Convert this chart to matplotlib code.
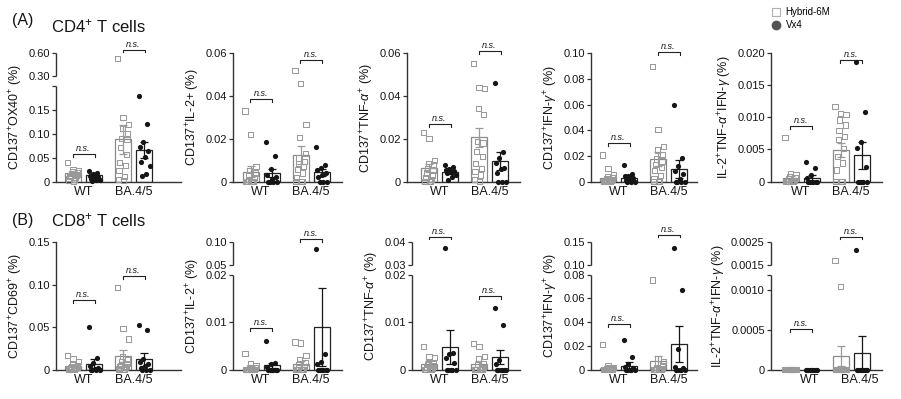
import numpy as np
import matplotlib
matplotlib.use('Agg')
import matplotlib.pyplot as plt
from matplotlib.lines import Line2D
from matplotlib.ticker import NullLocator
import matplotlib.transforms as mtransforms

plt.rcParams['font.family'] = ['Liberation Sans', 'DejaVu Sans']
plt.rcParams['mathtext.fontset'] = 'custom'
plt.rcParams['mathtext.rm'] = 'Liberation Sans'
plt.rcParams['mathtext.it'] = 'Liberation Sans:italic'
plt.rcParams['mathtext.bf'] = 'Liberation Sans:bold'

groups = ['WT', 'BA.4/5']
series = ['Hybrid-6M', 'Vx4']

# points per panel: [WT Hybrid, WT Vx4, BA Hybrid, BA Vx4]
cd4_ox40 = [[0.040, 0.025, 0.022, 0.020, 0.018, 0.016, 0.015, 0.013, 0.012, 0.010, 0.008, 0.006, 0.004, 0.002, 0.001],
            [0.023, 0.018, 0.015, 0.012, 0.010, 0.008, 0.006, 0.004, 0.003, 0.001],
            [0.53, 0.134, 0.120, 0.111, 0.100, 0.090, 0.088, 0.072, 0.057, 0.040, 0.033, 0.023, 0.010, 0.004, 0.002],
            [0.180, 0.121, 0.083, 0.072, 0.064, 0.051, 0.041, 0.033, 0.015, 0.012]]
cd4_ox40_mean = [0.017, 0.013, 0.088, 0.066]
cd4_ox40_sem = [0.004, 0.003, 0.031, 0.017]

cd4_il2 = [[0.033, 0.022, 0.007, 0.005, 0.004, 0.003, 0.002, 0.001] + [0] * 7,
           [0.0187, 0.012, 0.006, 0.003, 0.002, 0.001] + [0] * 4,
           [0.052, 0.046, 0.0265, 0.0207, 0.0132, 0.011, 0.0095, 0.0086, 0.007, 0.0055, 0.004, 0.002, 0, 0, 0],
           [0.0162, 0.0075, 0.0062, 0.0055, 0.004, 0.003, 0.002, 0, 0, 0]]
cd4_il2_mean = [0.0046, 0.0040, 0.0125, 0.0044]
cd4_il2_sem = [0.0025, 0.0020, 0.0042, 0.0016]

cd4_tnf = [[0.023, 0.020, 0.010, 0.0086, 0.0078, 0.0062, 0.005, 0.004, 0.003, 0.002, 0.001, 0, 0, 0, 0],
           [0.0075, 0.007, 0.006, 0.0055, 0.005, 0.0045, 0.004, 0.003, 0.002, 0.0005],
           [0.0553, 0.0441, 0.0436, 0.0343, 0.0312, 0.0187, 0.018, 0.014, 0.0117, 0.0086, 0.0062, 0.0047, 0.003, 0.001, 0],
           [0.0463, 0.014, 0.0109, 0.0086, 0.0062, 0.006, 0.004, 0, 0, 0]]
cd4_tnf_mean = [0.0062, 0.0044, 0.0206, 0.0098]
cd4_tnf_sem = [0.0018, 0.0008, 0.0044, 0.0042]

cd4_ifng = [[0.0206, 0.0102, 0.005, 0.004, 0.003, 0.002, 0.0015, 0.001, 0.0005] + [0] * 6,
            [0.013, 0.006, 0.0044, 0.004, 0.003, 0.002, 0.001, 0, 0, 0],
            [0.0898, 0.0404, 0.027, 0.0245, 0.021, 0.0175, 0.016, 0.013, 0.011, 0.0083, 0.0044, 0.002, 0, 0, 0],
            [0.0596, 0.0182, 0.0122, 0.0083, 0.0057, 0.002, 0, 0, 0, 0]]
cd4_ifng_mean = [0.0025, 0.0030, 0.0174, 0.0096]
cd4_ifng_sem = [0.0013, 0.0010, 0.0053, 0.0070]

cd4_poly = [[0.0069, 0.0012, 0.001, 0.0008, 0.0006, 0.0004, 0.0002] + [0] * 8,
            [0.0031, 0.0021, 0.001, 0.0005] + [0] * 6,
            [0.0117, 0.0106, 0.0105, 0.0096, 0.0088, 0.008, 0.007, 0.0065, 0.0052, 0.0039, 0.0029, 0.0018, 0, 0, 0],
            [0.0186, 0.0109, 0.0062, 0.0052, 0.0023] + [0] * 5]
cd4_poly_mean = [0.0005, 0.0005, 0.0049, 0.0041]
cd4_poly_sem = [0.0004, 0.0005, 0.0011, 0.0021]

cd8_cd69 = [[0.0168, 0.0125, 0.0097, 0.006, 0.005, 0.004, 0.003, 0.002, 0.002, 0.001, 0.001, 0.0005, 0, 0, 0],
            [0.050, 0.014, 0.008, 0.004, 0.002, 0.001, 0, 0, 0, 0],
            [0.097, 0.048, 0.036, 0.015, 0.012, 0.009, 0.007, 0.005, 0.004, 0.003, 0.002, 0.001, 0, 0, 0],
            [0.052, 0.047, 0.012, 0.009, 0.006, 0.004, 0.002, 0, 0, 0]]
cd8_cd69_mean = [0.004, 0.007, 0.016, 0.012]
cd8_cd69_sem = [0.0015, 0.0055, 0.0067, 0.0075]

cd8_il2 = [[0.0033, 0.0012, 0.0008, 0.0005, 0.0003] + [0] * 10,
           [0.006, 0.0014, 0.0012, 0.0006] + [0] * 6,
           [0.0058, 0.0056, 0.003, 0.0021, 0.0015, 0.001, 0.0006, 0.0003] + [0] * 7,
           [0.085, 0.0032, 0.0016, 0.0012] + [0] * 6]
cd8_il2_mean = [0.00035, 0.00085, 0.0012, 0.0090]
cd8_il2_sem = [0.0003, 0.0005, 0.0006, 0.0082]

cd8_tnf = [[0.0049, 0.0028, 0.0025, 0.0015, 0.0012, 0.001, 0.0008, 0.0005, 0.0003] + [0] * 6,
           [0.0376, 0.0034, 0.0032, 0.0025, 0.0014] + [0] * 5,
           [0.0055, 0.0049, 0.0027, 0.0023, 0.0012, 0.001, 0.0005] + [0] * 8,
           [0.013, 0.0093, 0.0021, 0.0012] + [0] * 6]
cd8_tnf_mean = [0.0012, 0.0048, 0.0012, 0.0026]
cd8_tnf_sem = [0.0005, 0.0036, 0.0006, 0.0015]

cd8_ifng = [[0.0211, 0.0037, 0.002, 0.0015, 0.001, 0.001, 0.0005] + [0] * 8,
            [0.0248, 0.0107, 0.005, 0.002, 0.001] + [0] * 5,
            [0.0755, 0.0093, 0.0065, 0.005, 0.003, 0.002, 0.001] + [0] * 8,
            [0.137, 0.067, 0.0169, 0.0023, 0.001] + [0] * 5]
cd8_ifng_mean = [0.0014, 0.0031, 0.0068, 0.0214]
cd8_ifng_sem = [0.0012, 0.0034, 0.0050, 0.0152]

cd8_poly = [[0] * 15,
            [0] * 10,
            [0.0017, 0.00105] + [0] * 13,
            [0.00216] + [0] * 9]
cd8_poly_mean = [0, 0, 0.00017, 0.00021]
cd8_poly_sem = [0, 0, 0.000125, 0.00022]

HY_C = '#9a9a9a'
VX_C = '#151515'
AX_C = '#333333'
TXT_C = '#151515'

W, H = 901, 399
fig = plt.figure(figsize=(W / 100, H / 100), dpi=100)

rows = {'A': (181.5, 53.3), 'B': (369.5, 242.2)}
UNIT = 50.0
LO_F, HI_F = 0.745, 0.823


def pw(v, xs, ys):
    v = np.asarray(v, dtype=float)
    s0 = (ys[1] - ys[0]) / (xs[1] - xs[0])
    s1 = (ys[-1] - ys[-2]) / (xs[-1] - xs[-2])
    return np.where(v < xs[0], ys[0] + (v - xs[0]) * s0,
                    np.where(v > xs[-1], ys[-1] + (v - xs[-1]) * s1, np.interp(v, xs, ys)))


panels = [
    dict(row='A', left=56, width=125, wt=83.5, pts=cd4_ox40, mean=cd4_ox40_mean, sem=cd4_ox40_sem,
         ylabel=r'CD137$^{+}$OX40$^{+}$ (%)', brk=(0.2, 0.30, 0.60),
         ticks=[0, 0.05, 0.10, 0.15, 0.2, 0.30, 0.60], labels=['0', '0.05', '0.10', '0.15', '', '0.30', '0.60'],
         ns=(0.057, 0.65)),
    dict(row='A', left=233, width=109, wt=261, pts=cd4_il2, mean=cd4_il2_mean, sem=cd4_il2_sem,
         ylabel=r'CD137$^{+}$IL-2+ (%)', brk=None, top=0.06,
         ticks=[0, 0.02, 0.04, 0.06], labels=['0', '0.02', '0.04', '0.06'], ns=(0.0385, 0.057)),
    dict(row='A', left=407, width=113, wt=439.5, pts=cd4_tnf, mean=cd4_tnf_mean, sem=cd4_tnf_sem,
         ylabel=r'CD137$^{+}$TNF-$\alpha^{+}$ (%)', brk=None, top=0.06,
         ticks=[0, 0.02, 0.04, 0.06], labels=['0', '0.02', '0.04', '0.06'], ns=(0.027, 0.061)),
    dict(row='A', left=591, width=106, wt=618.5, pts=cd4_ifng, mean=cd4_ifng_mean, sem=cd4_ifng_sem,
         ylabel=r'CD137$^{+}$IFN-$\gamma^{+}$ (%)', brk=None, top=0.10,
         ticks=[0, 0.02, 0.04, 0.06, 0.08, 0.10], labels=['0', '0.02', '0.04', '0.06', '0.08', '0.10'],
         ns=(0.0297, 0.1008)),
    dict(row='A', left=771, width=111, wt=801, pts=cd4_poly, mean=cd4_poly_mean, sem=cd4_poly_sem,
         ylabel=r'IL-2$^{+}$TNF-$\alpha^{+}$IFN-$\gamma$ (%)', brk=None, top=0.020,
         ticks=[0, 0.005, 0.010, 0.015, 0.020], labels=['0', '0.005', '0.010', '0.015', '0.020'],
         ns=(0.0087, 0.019)),
    dict(row='B', left=56, width=125, wt=83.5, pts=cd8_cd69, mean=cd8_cd69_mean, sem=cd8_cd69_sem,
         ylabel=r'CD137$^{+}$CD69$^{+}$ (%)', brk=None, top=0.15,
         ticks=[0, 0.05, 0.10, 0.15], labels=['0', '0.05', '0.10', '0.15'], ns=(0.082, 0.11)),
    dict(row='B', left=233, width=109, wt=261, pts=cd8_il2, mean=cd8_il2_mean, sem=cd8_il2_sem,
         ylabel=r'CD137$^{+}$IL-2$^{+}$ (%)', brk=(0.02, 0.05, 0.10),
         ticks=[0, 0.01, 0.02, 0.05, 0.10], labels=['0', '0.01', '0.02', '0.05', '0.10'], ns=(0.0088, 0.106)),
    dict(row='B', left=412, width=108, wt=439.5, pts=cd8_tnf, mean=cd8_tnf_mean, sem=cd8_tnf_sem,
         ylabel=r'CD137$^{+}$TNF-$\alpha^{+}$ (%)', brk=(0.02, 0.03, 0.04),
         ticks=[0, 0.01, 0.02, 0.03, 0.04], labels=['0', '0.01', '0.02', '0.03', '0.04'], ns=(0.0425, 0.0154)),
    dict(row='B', left=591, width=106, wt=618.5, pts=cd8_ifng, mean=cd8_ifng_mean, sem=cd8_ifng_sem,
         ylabel=r'CD137$^{+}$IFN-$\gamma^{+}$ (%)', brk=(0.08, 0.10, 0.15),
         ticks=[0, 0.02, 0.04, 0.06, 0.08, 0.10, 0.15],
         labels=['0', '0.02', '0.04', '0.06', '0.08', '0.10', '0.15'], ns=(0.0383, 0.167)),
    dict(row='B', left=771, width=111, wt=801, pts=cd8_poly, mean=cd8_poly_mean, sem=cd8_poly_sem,
         ylabel=r'IL-2$^{+}$TNF-$\alpha^{+}$IFN-$\gamma$ (%)', brk=(0.0012, 0.0015, 0.0025),
         ticks=[0, 0.0005, 0.0010, 0.0012, 0.0015, 0.0025],
         labels=['0', '0.0005', '0.0010', '', '0.0015', '0.0025'], ns=(0.000516, 0.00275), xshift=9),
]

for p in panels:
    y0, y1 = rows[p['row']]
    ax = fig.add_axes([p['left'] / W, 1 - y0 / H, p['width'] / W, (y0 - y1) / H])
    ax_h = y0 - y1
    xl = (p['left'] - p['wt']) / UNIT
    ax.set_xlim(xl, xl + p['width'] / UNIT)

    if p['brk'] is not None:
        L, U0, U1 = p['brk']
        ks = [0, L, U0, U1]
        ts = [0, LO_F, HI_F, 1.0]
        ax.set_yscale('function', functions=(lambda v, ks=ks, ts=ts: pw(v, ks, ts),
                                             lambda t, ks=ks, ts=ts: pw(t, ts, ks)))
        ax.set_ylim(0, U1)
        ax.spines['left'].set_visible(False)
        yt = ax.get_yaxis_transform()
        for a, b in [(0, L), (U0, U1)]:
            ax.plot([0, 0], [a, b], transform=yt, color=AX_C, lw=1.0, clip_on=False,
                    solid_capstyle='butt')
    else:
        ax.set_ylim(0, p['top'])
        ax.spines['left'].set_color(AX_C)
        ax.spines['left'].set_linewidth(1.0)

    ax.set_yticks(p['ticks'])
    ax.set_yticklabels(p['labels'])
    ax.yaxis.set_minor_locator(NullLocator())
    for s in ['top', 'right']:
        ax.spines[s].set_visible(False)
    ax.spines['bottom'].set_color(AX_C)
    ax.spines['bottom'].set_linewidth(1.0)
    ax.tick_params(axis='y', direction='out', length=3, width=0.9, color=AX_C,
                   labelsize=8, pad=1.5, labelcolor=TXT_C)
    ax.tick_params(axis='x', length=0, labelsize=9, pad=3, labelcolor=TXT_C)
    ax.set_xticks([0, 1])
    ax.set_xticklabels(groups)
    if p.get('xshift'):
        off = mtransforms.ScaledTranslation(p['xshift'] / 100, 0, fig.dpi_scale_trans)
        for lab in ax.get_xticklabels():
            lab.set_transform(lab.get_transform() + off)
    ax.set_ylabel(p['ylabel'], fontsize=9, labelpad=2.5, color=TXT_C)

    offs = [-0.21, 0.21]
    for gi in range(2):
        for si in range(2):
            k = gi * 2 + si
            x = gi + offs[si]
            col = HY_C if si == 0 else VX_C
            ax.bar(x, p['mean'][k], width=0.32, facecolor='white',
                   edgecolor='#8a8a8a' if si == 0 else '#222222', lw=0.9, zorder=2)
            vals = np.asarray(p['pts'][k], dtype=float)
            n = len(vals)
            jit = np.linspace(-0.11, 0.11, n)[(np.arange(n) * 7) % n]
            if si == 0:
                ax.scatter(x + jit, vals, marker='s', s=14, facecolor='none', edgecolor=HY_C,
                           linewidths=0.75, zorder=3, clip_on=False)
            else:
                ax.scatter(x + jit, vals, marker='o', s=14, color=VX_C, linewidths=0,
                           zorder=3, clip_on=False)
            ax.errorbar(x, p['mean'][k], yerr=p['sem'][k], fmt='none', ecolor=col,
                        elinewidth=0.9, capsize=3, capthick=0.9, zorder=4)

    # n.s. brackets
    tr = ax.get_xaxis_transform()
    h = 2.8 / ax_h
    for gi, yv in enumerate(p['ns']):
        ya = ax.transAxes.inverted().transform(ax.transData.transform((0, yv)))[1]
        ax.plot([gi - 0.22, gi - 0.22, gi + 0.22, gi + 0.22], [ya - h, ya, ya, ya - h],
                transform=tr, color='#222222', lw=0.8, clip_on=False)
        ax.text(gi, ya + 1.0 / ax_h, 'n.s.', style='italic', fontsize=6.5, ha='center',
                va='bottom', transform=tr, color=TXT_C)

fig.text(12 / W, 1 - 25 / H, '(A)', fontsize=11.5, va='baseline', color=TXT_C)
fig.text(51 / W, 1 - 32 / H, r'CD4$^{+}$ T cells', fontsize=12, va='baseline', color=TXT_C)
fig.text(12 / W, 1 - 225 / H, '(B)', fontsize=11.5, va='baseline', color=TXT_C)
fig.text(51 / W, 1 - 226 / H, r'CD8$^{+}$ T cells', fontsize=12, va='baseline', color=TXT_C)

handles = [Line2D([], [], marker='s', ls='none', mfc='none', mec='#b0b0b0', mew=0.8, ms=6),
           Line2D([], [], marker='o', ls='none', mfc='#555555', mec='#555555', ms=6)]
fig.legend(handles, series, loc='upper left', bbox_to_anchor=(771 / W, 1 - 7 / H), frameon=False,
           fontsize=7, handletextpad=0.5, labelspacing=0.35, borderpad=0, handlelength=1.0,
           borderaxespad=0)

fig.savefig('out.png', dpi=100)
